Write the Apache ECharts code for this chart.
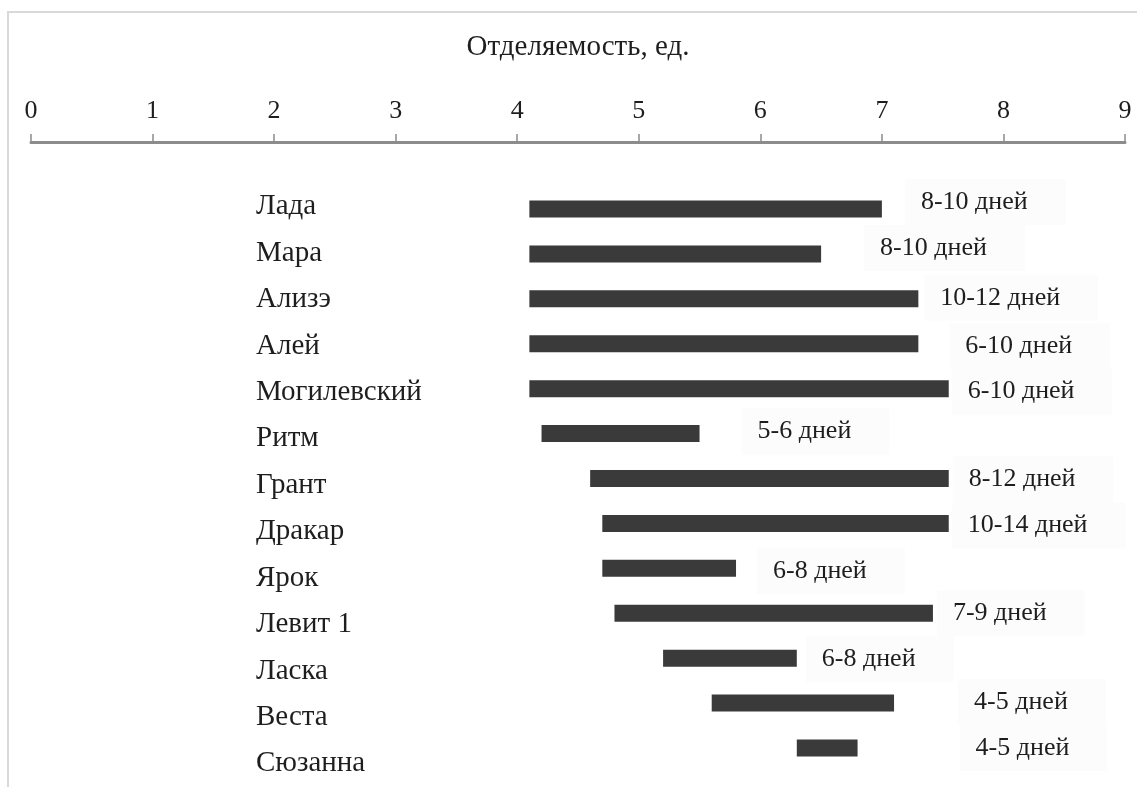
<!DOCTYPE html>
<html lang="ru">
<head>
<meta charset="utf-8">
<title>Отделяемость</title>
<style>
  html, body { margin: 0; padding: 0; background: #fff; }
  #chart { width: 1137px; height: 787px; }
</style>
</head>
<body>
<div id="chart"></div>
<script src="https://cdn.jsdelivr.net/npm/echarts@6/dist/echarts.min.js"></script>
<script>
// сорта, начало и конец отделяемости, срок
var sorts = ['Лада', 'Мара', 'Ализэ', 'Алей', 'Могилевский', 'Ритм', 'Грант',
             'Дракар', 'Ярок', 'Левит 1', 'Ласка', 'Веста', 'Сюзанна'];
var startVal = [4.1, 4.1, 4.1, 4.1, 4.1, 4.2, 4.6, 4.7, 4.7, 4.8, 5.2, 5.6, 6.3];
var endVal   = [7.0, 6.5, 7.3, 7.3, 7.55, 5.5, 7.55, 7.55, 5.8, 7.42, 6.3, 7.1, 6.8];
var days = ['8-10 дней', '8-10 дней', '10-12 дней', '6-10 дней', '6-10 дней', '5-6 дней',
            '8-12 дней', '10-14 дней', '6-8 дней', '7-9 дней', '6-8 дней', '4-5 дней', '4-5 дней'];
var ticks = ['0', '1', '2', '3', '4', '5', '6', '7', '8', '9'];

// сдвиг подписей (px) — в оригинале они разбросаны
var labelShift = [[23, -7], [43, -6], [6, -1], [31, 2], [3, 3], [42, -2], [4, 1],
                  [3, 2], [21, 3], [4, 0], [9, 1], [64, -1], [102, 0]];

var font = 'Liberation Serif';
var myChart = echarts.init(document.getElementById('chart'));

var lengths = endVal.map(function (e, i) { return +(e - startVal[i]).toFixed(2); });

myChart.setOption({
    animation: false,
    textStyle: { fontFamily: font },
    graphic: [{
        type: 'rect',
        shape: { x: 8, y: 12, width: 1200, height: 900 },
        style: { fill: 'none', stroke: '#d9d9d9', lineWidth: 2 },
        silent: true
    }],
    grid: [
        { left: 31, right: 12, top: 186.5, height: 584 },
        { left: 256, width: 10, top: 183.5, height: 611 }
    ],
    xAxis: [{
        type: 'value',
        gridIndex: 0,
        position: 'top',
        offset: 44.5,
        min: 0, max: 9, interval: 1,
        name: 'Отделяемость, ед.',
        nameLocation: 'middle',
        nameGap: 80,
        nameTextStyle: { fontFamily: font, fontSize: 29, color: '#1e1e1e' },
        axisLine: { show: true, lineStyle: { color: '#8c8c8c', width: 3 } },
        axisTick: { show: true, length: 8, lineStyle: { color: '#8c8c8c', width: 1.5 } },
        axisLabel: {
            fontFamily: font, fontSize: 26, color: '#1e1e1e', margin: 18,
            formatter: function (v) { return ticks[v] || ''; }
        },
        splitLine: { show: false }
    }, {
        type: 'value', gridIndex: 1, show: false, min: 0, max: 1
    }],
    yAxis: [{
        type: 'category',
        gridIndex: 0,
        data: sorts,
        inverse: true,
        show: false
    }, {
        type: 'category',
        gridIndex: 1,
        data: sorts,
        inverse: true,
        axisLine: { show: false },
        axisTick: { show: false },
        axisLabel: {
            fontFamily: font, fontSize: 29, color: '#1e1e1e',
            align: 'left', margin: 0
        }
    }],
    series: [{
        type: 'bar',
        stack: 'r',
        xAxisIndex: 0, yAxisIndex: 0,
        data: startVal,
        barWidth: 17,
        itemStyle: { color: 'transparent' },
        silent: true
    }, {
        type: 'bar',
        stack: 'r',
        xAxisIndex: 0, yAxisIndex: 0,
        barWidth: 17,
        itemStyle: { color: '#3a3a3a' },
        data: lengths.map(function (v, i) {
            return {
                value: v,
                label: { offset: labelShift[i] }
            };
        }),
        label: {
            show: true,
            position: 'right',
            distance: 0,
            fontFamily: font,
            fontSize: 26,
            color: '#1e1e1e',
            backgroundColor: '#fcfcfc',
            padding: [10, 38, 10, 16],
            formatter: function (p) { return days[p.dataIndex]; }
        }
    }]
});
</script>
</body>
</html>
